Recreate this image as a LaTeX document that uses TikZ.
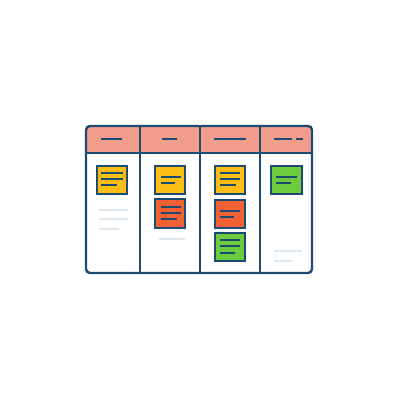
\documentclass[tikz,border=0pt]{standalone}
\begin{document}
\begin{tikzpicture}[x=1pt,y=-1pt,
  dk/.style={draw=boardblue,line width=2.4pt},
  note/.style={draw=boardblue,line width=2.2pt},
  nl/.style={draw=boardblue,line width=2pt},
  faint/.style={draw=faintline,line width=1.8pt}]
\definecolor{boardblue}{HTML}{1D4A70}
\definecolor{headpink}{HTML}{F29C8C}
\definecolor{noteyellow}{HTML}{FDBD14}
\definecolor{notered}{HTML}{F26133}
\definecolor{notegreen}{HTML}{6DCB3E}
\definecolor{faintline}{HTML}{DDE7EF}
\useasboundingbox (0,0) rectangle (400,400);
\fill[white] (0,0) rectangle (400,400);
% header
\fill[headpink,rounded corners=4pt] (86,126) rectangle (312,160);
\fill[headpink] (86,145) rectangle (312,153);
\fill[white] (86,153) rectangle (312,273);
\draw[dk,rounded corners=4pt] (86,126) rectangle (312,273);
\draw[dk] (86,153) -- (312,153);
\foreach \x in {140,200,260} \draw[dk] (\x,126) -- (\x,273);
% header dashes
\draw[nl] (101,139) -- (122,139);
\draw[nl] (162,139) -- (177,139);
\draw[nl] (214,139) -- (246,139);
\draw[nl] (274,139) -- (292,139);
\draw[nl] (296,139) -- (303,139);
% column 1
\draw[note,fill=noteyellow] (97,166) rectangle (127,194);
\draw[nl] (101,173) -- (123,173) (101,179) -- (123,179) (101,185) -- (117,185);
\draw[faint] (99,210) -- (128,210) (99,219) -- (128,219) (99,229) -- (119,229);
% column 2
\draw[note,fill=noteyellow] (155,166) rectangle (185,194);
\draw[nl] (161,176.5) -- (181,176.5) (161,182.5) -- (175,182.5);
\draw[note,fill=notered] (155,199) rectangle (185,228);
\draw[nl] (161,207) -- (181,207) (161,213) -- (181,213) (161,219) -- (177,219);
\draw[faint] (159,239) -- (185,239);
% column 3
\draw[note,fill=noteyellow] (215,166) rectangle (245,194);
\draw[nl] (220,173) -- (240,173) (220,179) -- (240,179) (220,185) -- (236,185);
\draw[note,fill=notered] (215,200) rectangle (245,228);
\draw[nl] (220,210.5) -- (240,210.5) (220,217) -- (234,217);
\draw[note,fill=notegreen] (215,233) rectangle (245,261);
\draw[nl] (220,239.5) -- (240,239.5) (220,246) -- (240,246) (220,252.5) -- (235,252.5);
% column 4
\draw[note,fill=notegreen] (271,166) rectangle (302,194);
\draw[nl] (276,177) -- (297,177) (276,183) -- (291,183);
\draw[faint] (274,251) -- (302,251) (274,261) -- (292,261);
\end{tikzpicture}
\end{document}
